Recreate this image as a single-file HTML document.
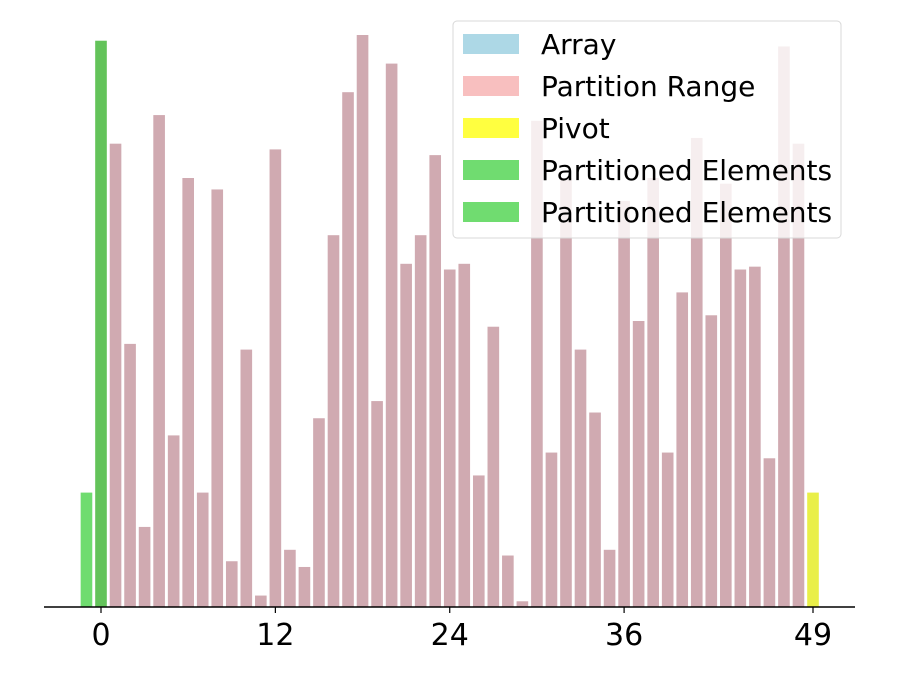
<!DOCTYPE html>
<html><head><meta charset="utf-8"><style>
body{margin:0;background:#fff;}
svg{display:block;font-family:"DejaVu Sans","Liberation Sans",sans-serif;}
</style></head><body>
<svg id="chart" width="900" height="675" viewBox="0 0 900 675"></svg>
<script>
const indices = [-1,0,1,2,3,4,5,6,7,8,9,10,11,12,13,14,15,16,17,18,19,20,21,22,23,24,25,26,27,28,29,30,31,32,33,34,35,36,37,38,39,40,41,42,43,44,45,46,47,48,49];
const values = [20,99,81,46,14,86,30,75,20,73,8,45,2,80,10,7,33,65,90,100,36,95,60,65,79,59,60,23,49,9,1,85,27,75,45,34,10,71,50,75,27,55,82,51,74,59,59.5,26,98,81,20];
const barColors = {"-1":"#6fdc6f","0":"#63c35a","49":"#e9ef48"};
const xTicks = [0,12,24,36,49];
const legendLabels = ["Array","Partition Range","Pivot","Partitioned Elements","Partitioned Elements"];
const legendColors = ["#add8e6","#f8bfbf","#ffff40","#70dc70","#70dc70"];

const NS="http://www.w3.org/2000/svg";
const svg=document.getElementById('chart');
const X0=101, DX=(813-101)/49, BASE=607, PX_PER=5.72;
const xs=i=>X0+i*DX;
const ys=v=>BASE-v*PX_PER;
function mk(t,a){const e=document.createElementNS(NS,t);for(const k in a)e.setAttribute(k,a[k]);svg.appendChild(e);return e;}
const bw=DX*0.8;
indices.forEach((idx,j)=>{
  const r=mk('rect',{x:xs(idx)-bw/2,y:ys(values[j]),width:bw,height:values[j]*PX_PER,fill:barColors[idx]||'#d0aab1'});
  
  
});
const ax=mk('line',{x1:44,x2:855,y1:BASE,y2:BASE,stroke:'#000','stroke-width':1.5});


xTicks.forEach(t=>{
  const tk=mk('line',{x1:xs(t),x2:xs(t),y1:BASE,y2:BASE+6,stroke:'#000','stroke-width':1.2});
  
  
  const tx=mk('text',{x:xs(t),y:645,'text-anchor':'middle','font-size':30,fill:'#000'});
  tx.textContent=t;
  
  
});
const g=mk('rect',{x:453,y:21,width:388,height:217,rx:4,fill:'rgba(255,255,255,0.8)',stroke:'#d8d8d8','stroke-width':1});


legendLabels.forEach((l,i)=>{
  const cy=44+i*42;
  const p=mk('rect',{x:463,y:cy-10,width:56,height:20,fill:legendColors[i]});
  
  
  const tx=mk('text',{x:541,y:cy+10,'font-size':28,fill:'#000'});
  tx.textContent=l;
  
  
});
</script>
</body></html>
